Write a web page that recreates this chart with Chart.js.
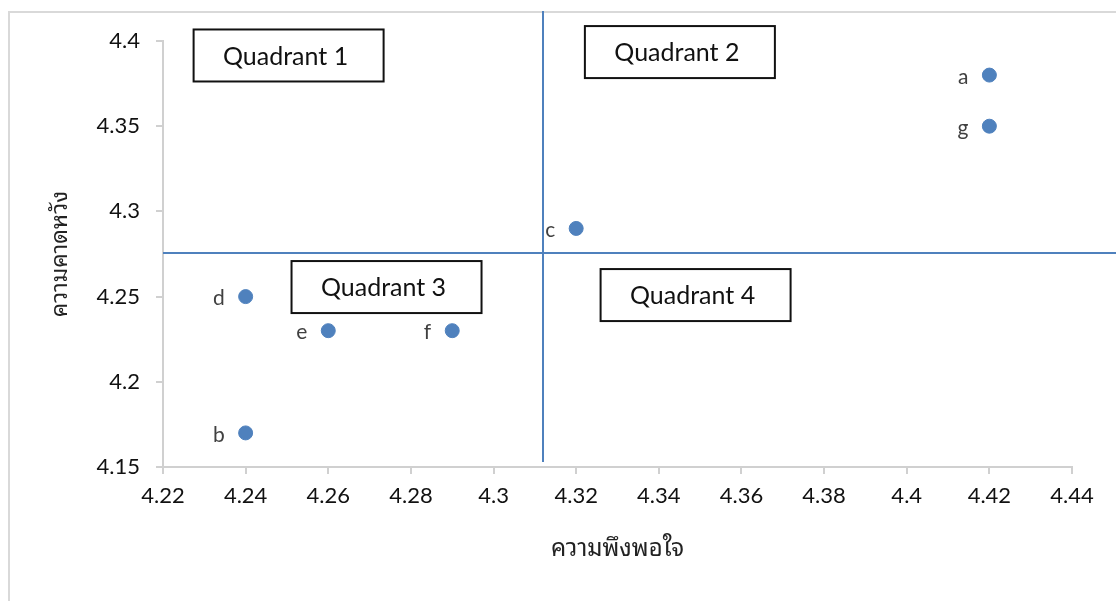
<!DOCTYPE html>
<html>
<head>
<meta charset="utf-8">
<script src="https://cdn.jsdelivr.net/npm/chart.js@4"></script>
<style>
	html, body { margin: 0; padding: 0; background: #fff; }
	#wrap { position: relative; width: 1116px; height: 601px; }
	#frame {
		position: absolute; left: 8px; top: 11px; right: -4px; bottom: -4px;
		border-top: 2px solid #d9d9d9; border-left: 2px solid #d9d9d9;
	}
	canvas { position: absolute; left: 0; top: 0; }
</style>
</head>
<body>
<div id="wrap">
	<div id="frame"></div>
	<canvas id="chart" width="1116" height="601"></canvas>
</div>
<script>
// data
const pointNames = ['a', 'b', 'c', 'd', 'e', 'f', 'g'];
const satisfaction = [4.42, 4.24, 4.32, 4.24, 4.26, 4.29, 4.42];
const expectation = [4.38, 4.17, 4.29, 4.25, 4.23, 4.23, 4.35];

const xTickValues = [4.22, 4.24, 4.26, 4.28, 4.3, 4.32, 4.34, 4.36, 4.38, 4.4, 4.42, 4.44];
const xTickLabels = ['4.22', '4.24', '4.26', '4.28', '4.3', '4.32', '4.34', '4.36', '4.38', '4.4', '4.42', '4.44'];
const yTickValues = [4.15, 4.2, 4.25, 4.3, 4.35, 4.4];
const yTickLabels = ['4.15', '4.2', '4.25', '4.3', '4.35', '4.4'];

const xTitle = 'ความพึงพอใจ';
const yTitle = 'ความคาดหวัง';

// quadrant dividers (data units)
const splitX = 4.312;
const splitY = 4.2756;

// quadrant captions, centred on a data position
const quadrantNames = ['Quadrant 1', 'Quadrant 2', 'Quadrant 3', 'Quadrant 4'];
const quadrantX = [4.2504, 4.3451, 4.2741, 4.3489];
const quadrantY = [4.3915, 4.3935, 4.2556, 4.2509];

const FONT = "Lato, 'Noto Sans Thai Looped', 'Noto Sans Thai', 'Noto Sans', sans-serif";
const BLUE = '#4f81bd';

const quadrantPlugin = {
	id: 'quadrants',
	afterDatasetsDraw: function (chart) {
		const ctx = chart.ctx;
		const xs = chart.scales.x;
		const ys = chart.scales.y;
		const area = chart.chartArea;
		ctx.save();

		// divider lines
		ctx.strokeStyle = '#4f81bd';
		ctx.lineWidth = 2;
		const vx = Math.round(xs.getPixelForValue(splitX));
		const hy = Math.round(ys.getPixelForValue(splitY));
		ctx.beginPath();
		ctx.moveTo(vx, 11);
		ctx.lineTo(vx, area.bottom - 5);
		ctx.moveTo(area.left, hy);
		ctx.lineTo(chart.width, hy);
		ctx.stroke();

		// boxes
		ctx.font = '25px ' + FONT;
		ctx.textAlign = 'center';
		ctx.textBaseline = 'middle';
		quadrantNames.forEach(function (name, i) {
			const cx = xs.getPixelForValue(quadrantX[i]);
			const cy = ys.getPixelForValue(quadrantY[i]);
			const w = 190, h = 52;
			ctx.fillStyle = '#fff';
			ctx.fillRect(cx - w / 2, cy - h / 2, w, h);
			ctx.strokeStyle = '#111';
			ctx.lineWidth = 2;
			ctx.strokeRect(cx - w / 2, cy - h / 2, w, h);
			ctx.fillStyle = '#111';
			ctx.fillText(name, cx - 3, cy + 1);
		});

		// point labels, left of each marker
		const meta = chart.getDatasetMeta(0);
		ctx.font = '21px ' + FONT;
		ctx.fillStyle = '#404040';
		ctx.textAlign = 'right';
		meta.data.forEach(function (pt, i) {
			ctx.fillText(pointNames[i], pt.x - 21, pt.y + 2);
		});
		ctx.restore();
	}
};

const points = satisfaction.map(function (x, i) {
	return { x: x, y: expectation[i] };
});

new Chart(document.getElementById('chart').getContext('2d'), {
	type: 'scatter',
	data: {
		datasets: [{
			data: points,
			backgroundColor: BLUE,
			borderColor: BLUE,
			pointRadius: 7,
			pointHoverRadius: 7
		}]
	},
	options: {
		responsive: false,
		animation: false,
		layout: {
			padding: { top: 41, right: 44, left: 0, bottom: 0 }
		},
		plugins: {
			legend: { display: false },
			tooltip: { enabled: false }
		},
		scales: {
			x: {
				type: 'linear',
				min: 4.22,
				max: 4.44,
				afterFit: function (scale) { scale.height = 134; },
				afterBuildTicks: function (scale) {
					scale.ticks = xTickValues.map(function (v) { return { value: v }; });
				},
				border: { display: true, color: '#d0d0d0', width: 2 },
				grid: { drawOnChartArea: false, drawTicks: true, tickLength: 7, color: '#d0d0d0', lineWidth: 2 },
				ticks: {
					autoSkip: false,
					maxRotation: 0,
					padding: 9,
					color: '#111',
					font: { family: FONT, size: 22 },
					callback: function (v, i) { return xTickLabels[i]; }
				},
				title: {
					display: true,
					text: xTitle,
					color: '#222',
					font: { family: FONT, size: 24 },
					padding: { top: 0, bottom: 38 }
				}
			},
			y: {
				type: 'linear',
				min: 4.15,
				max: 4.4,
				afterFit: function (scale) { scale.width = 163; },
				afterBuildTicks: function (scale) {
					scale.ticks = yTickValues.map(function (v) { return { value: v }; });
				},
				border: { display: true, color: '#d0d0d0', width: 2 },
				grid: { drawOnChartArea: false, drawTicks: true, tickLength: 7, color: '#d0d0d0', lineWidth: 2 },
				ticks: {
					autoSkip: false,
					padding: 16,
					color: '#111',
					font: { family: FONT, size: 22 },
					callback: function (v, i) { return yTickLabels[i]; }
				},
				title: {
					display: true,
					text: yTitle,
					color: '#222',
					font: { family: FONT, size: 23 },
					padding: { top: 46, bottom: 0 }
				}
			}
		}
	},
	plugins: [quadrantPlugin]
});
</script>
</body>
</html>
